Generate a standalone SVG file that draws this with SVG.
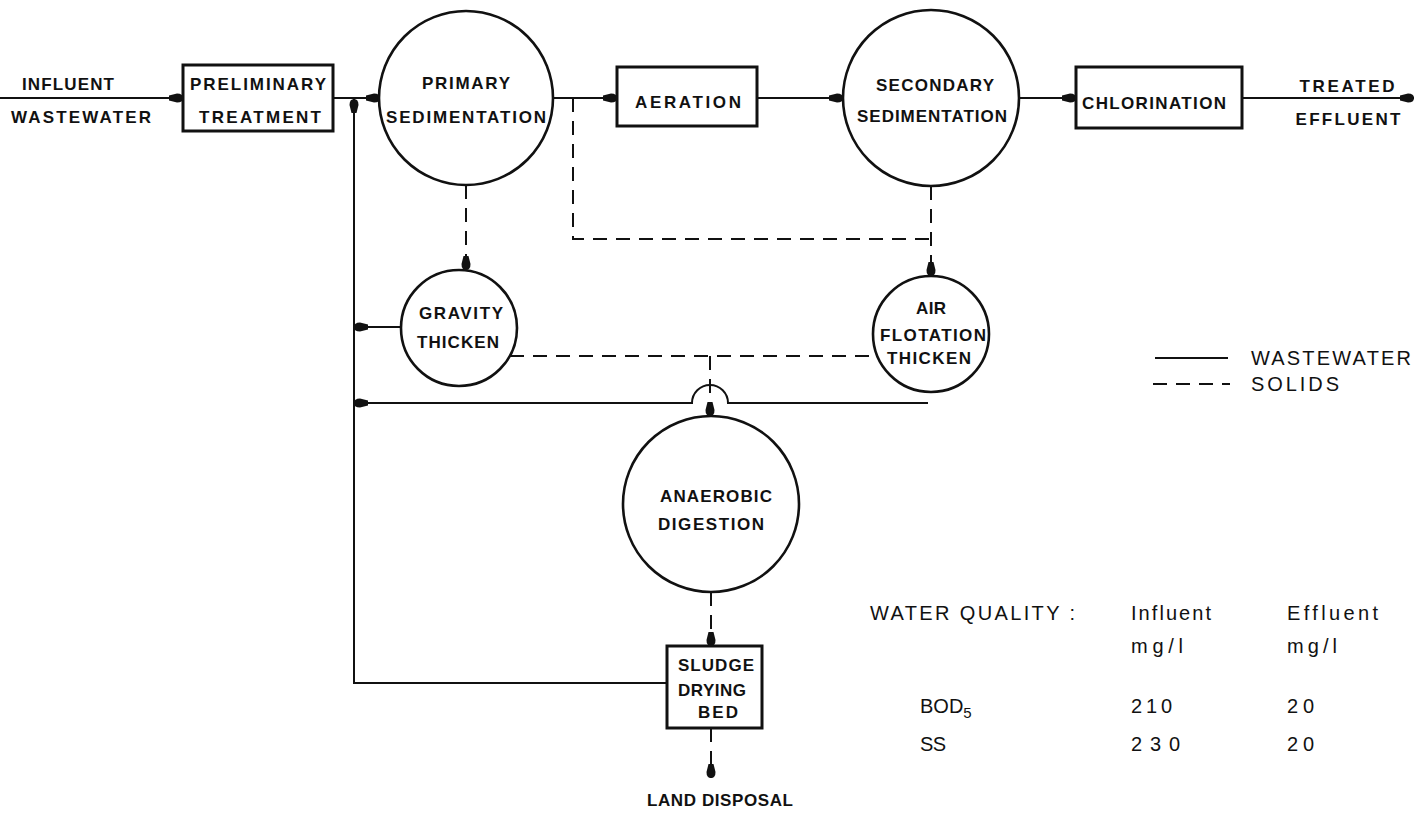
<svg xmlns="http://www.w3.org/2000/svg" width="1416" height="819" viewBox="0 0 1416 819">
<style>
.t{font-family:"Liberation Sans",Arial,sans-serif;font-weight:bold;font-size:17px;fill:#111;text-anchor:middle;dominant-baseline:central}
.tn{font-family:"Liberation Sans",Arial,sans-serif;font-size:20px;fill:#111;dominant-baseline:central}
.box{fill:#fff;stroke:#111;stroke-width:3}
.c{fill:#fff;stroke:#111;stroke-width:2.6}
.w{fill:none;stroke:#111;stroke-width:2}
.s{fill:none;stroke:#111;stroke-width:2;stroke-dasharray:14 9}
</style>
<defs>
<marker id="ah" viewBox="0 -5 14 10" refX="14" refY="0" markerWidth="14" markerHeight="10" markerUnits="userSpaceOnUse" orient="auto">
<path d="M0,-2.5 L8,-4.5 Q14,-4.5 14,0 Q14,4.5 8,4.5 L0,2.5 Z" fill="#111"/>
</marker>
</defs>
<rect width="1416" height="819" fill="#fff"/>
<g id="connectors">
<line class="w" x1="0" y1="98" x2="183" y2="98" marker-end="url(#ah)"/>
<line class="w" x1="333" y1="98" x2="380" y2="98" marker-end="url(#ah)"/>
<line class="w" x1="553" y1="98" x2="617" y2="98" marker-end="url(#ah)"/>
<line class="w" x1="757" y1="98" x2="843" y2="98" marker-end="url(#ah)"/>
<line class="w" x1="1019" y1="98" x2="1076" y2="98" marker-end="url(#ah)"/>
<line class="w" x1="1242" y1="98" x2="1414" y2="98" marker-end="url(#ah)"/>
<line class="s" x1="466" y1="185" x2="466" y2="270" marker-end="url(#ah)"/>
<polyline class="s" points="573,98 573,239 931,239"/>
<line class="s" x1="931" y1="186" x2="931" y2="276" marker-end="url(#ah)"/>
<line class="s" x1="510" y1="356" x2="877" y2="356"/>
<line class="s" x1="710" y1="356" x2="710" y2="416" marker-end="url(#ah)"/>
<path class="w" d="M928,403 L728,403 A18,18 0 0 0 692,403 L354,403" marker-end="url(#ah)"/>
<line class="w" x1="401" y1="327" x2="354" y2="327" marker-end="url(#ah)"/>
<polyline class="w" points="667,683 354,683 354,99" marker-end="url(#ah)"/>
<line class="s" x1="711" y1="592" x2="711" y2="646" marker-end="url(#ah)"/>
<line class="s" x1="711" y1="728" x2="711" y2="778" marker-end="url(#ah)"/>
</g>
<g id="influent"><text class="t" x="68" y="84" textLength="92">INFLUENT</text><text class="t" x="81" y="117" textLength="140">WASTEWATER</text></g>
<g id="preliminary"><rect class="box" x="183" y="65" width="150" height="66"/><text class="t" x="258" y="84" textLength="136">PRELIMINARY</text><text class="t" x="260" y="117" textLength="122">TREATMENT</text></g>
<g id="primary"><circle class="c" cx="466" cy="98" r="87"/><text class="t" x="466" y="83" textLength="88">PRIMARY</text><text class="t" x="466" y="117" textLength="160">SEDIMENTATION</text></g>
<g id="aeration"><rect class="box" x="617" y="67" width="140" height="59"/><text class="t" x="688" y="102" textLength="106">AERATION</text></g>
<g id="secondary"><circle class="c" cx="931" cy="98" r="88"/><text class="t" x="935" y="85" textLength="118">SECONDARY</text><text class="t" x="932" y="116" textLength="150">SEDIMENTATION</text></g>
<g id="chlorination"><rect class="box" x="1076" y="67" width="166" height="61"/><text class="t" x="1154" y="103" textLength="144">CHLORINATION</text></g>
<g id="effluent"><text class="t" x="1347" y="86" textLength="95">TREATED</text><text class="t" x="1348" y="119" textLength="105">EFFLUENT</text></g>
<g id="gravity"><circle class="c" cx="459" cy="328" r="58"/><text class="t" x="461" y="313" textLength="84">GRAVITY</text><text class="t" x="458" y="342" textLength="82">THICKEN</text></g>
<g id="airflotation"><circle class="c" cx="931" cy="334" r="58"/><text class="t" x="931" y="308" textLength="30">AIR</text><text class="t" x="933" y="335" textLength="106">FLOTATION</text><text class="t" x="929" y="358" textLength="84">THICKEN</text></g>
<g id="anaerobic"><circle class="c" cx="711" cy="504" r="88"/><text class="t" x="716" y="496" textLength="112">ANAEROBIC</text><text class="t" x="711" y="524" textLength="106">DIGESTION</text></g>
<g id="sludge"><rect class="box" x="667" y="646" width="95" height="82"/><text class="t" x="716" y="665" textLength="76">SLUDGE</text><text class="t" x="712" y="690" textLength="68">DRYING</text><text class="t" x="718" y="712" textLength="40">BED</text></g>
<g id="landdisposal"><text class="t" x="720" y="800" textLength="146">LAND DISPOSAL</text></g>
<g id="legend">
<line class="w" x1="1155" y1="358" x2="1228" y2="358"/><text class="tn" x="1251" y="358" textLength="160">WASTEWATER</text>
<line class="w" x1="1153" y1="384" x2="1230" y2="384" stroke-dasharray="14 9"/><text class="tn" x="1251" y="384" textLength="88">SOLIDS</text>
</g>
<g id="waterquality">
<text class="tn" x="870" y="613" textLength="205">WATER QUALITY :</text>
<text class="tn" x="1131" y="613" textLength="80">Influent</text><text class="tn" x="1131" y="646" textLength="52">mg/l</text>
<text class="tn" x="1287" y="613" textLength="91">Effluent</text><text class="tn" x="1287" y="646" textLength="50">mg/l</text>
<text class="tn" x="920" y="706">BOD<tspan font-size="15" dy="6">5</tspan></text>
<text class="tn" x="1131" y="706" textLength="41">210</text><text class="tn" x="1287" y="706" textLength="27">20</text>
<text class="tn" x="920" y="744" textLength="26">SS</text>
<text class="tn" x="1131" y="744" textLength="49">230</text><text class="tn" x="1287" y="744" textLength="27">20</text>
</g>
</svg>
